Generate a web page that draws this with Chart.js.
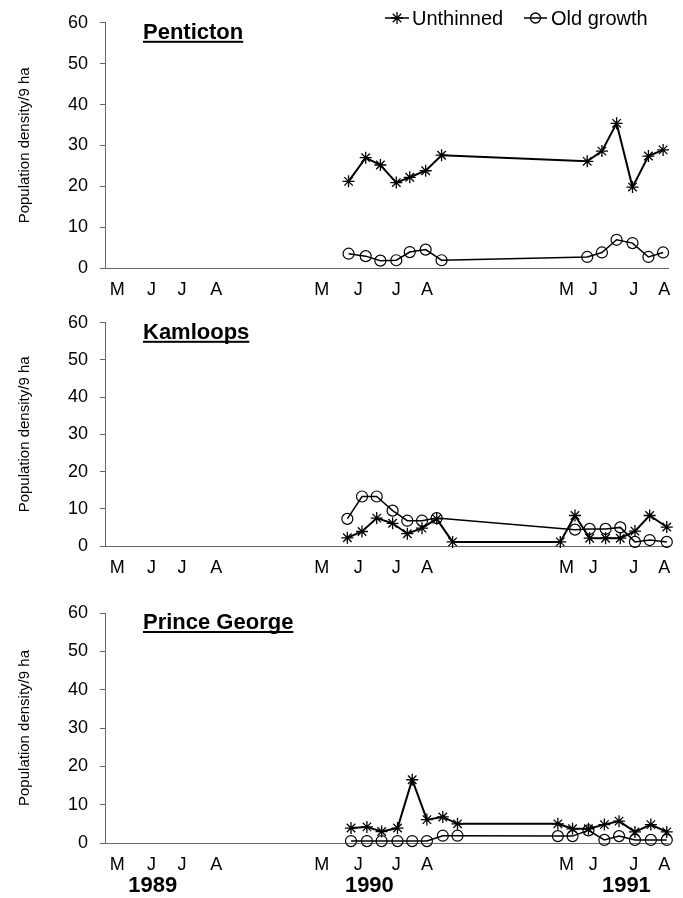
<!DOCTYPE html>
<html>
<head>
<meta charset="utf-8">
<script src="https://cdn.jsdelivr.net/npm/chart.js@4.4.0/dist/chart.umd.min.js"></script>
<style>
  html, body { margin: 0; padding: 0; background: #fff; }
  #wrap { position: relative; width: 683px; height: 898px; }
  .panel { position: absolute; left: 0; }
  .panel canvas { display: block; }
</style>
</head>
<body>
<div id="wrap">
  <div class="panel" style="top:0"><canvas id="c1" width="683" height="305"></canvas></div>
  <div class="panel" style="top:300px"><canvas id="c2" width="683" height="285"></canvas></div>
  <div class="panel" style="top:590px"><canvas id="c3" width="683" height="308"></canvas></div>
</div>
<script>
/* global Chart */

// x is a compressed season timeline (days, with the winters squeezed out)
const monthPos = [10, 38, 63, 91, 177, 207, 238, 263, 377, 399, 432, 457];
const monthLab = ["M", "J", "J", "A", "M", "J", "J", "A", "M", "J", "J", "A"];
const yearPos = [39, 216, 426];
const yearLab = ["1989", "1990", "1991"];

// Penticton
const penX = [199, 213, 225, 238, 249, 262, 275, 394, 406, 418, 431, 444, 456];
const penUnthinned = [21.2, 27.0, 25.2, 20.9, 22.2, 23.8, 27.6, 26.1, 28.6, 35.4, 19.8, 27.4, 28.9];
const penOldGrowth = [3.5, 2.9, 1.8, 1.9, 3.9, 4.5, 1.9, 2.7, 3.8, 6.9, 6.1, 2.7, 3.8];

// Kamloops
const kamUnX = [198, 210, 222, 235, 247, 259, 271, 284, 372, 384, 396, 409, 421, 433, 445, 459];
const kamUnthinned = [2.2, 3.9, 7.5, 6.1, 3.3, 4.8, 7.3, 1.1, 1.1, 8.2, 2.1, 2.1, 2.1, 4.0, 8.2, 5.1];
const kamOgX = [198, 210, 222, 235, 247, 259, 271, 384, 396, 409, 421, 433, 445, 459];
const kamOldGrowth = [7.3, 13.3, 13.3, 9.5, 6.8, 6.8, 7.5, 4.4, 4.6, 4.6, 5.0, 1.1, 1.6, 1.1];

// Prince George
const pgX = [201, 214, 226, 239, 251, 263, 276, 288, 370, 382, 395, 408, 420, 433, 446, 459];
const pgUnthinned = [3.9, 4.2, 3.0, 3.9, 16.5, 6.1, 6.8, 5.0, 5.0, 3.7, 3.7, 4.8, 5.7, 2.9, 4.8, 2.9];
const pgOldGrowth = [0.5, 0.5, 0.5, 0.5, 0.5, 0.5, 1.9, 1.9, 1.8, 1.8, 3.3, 0.8, 1.8, 0.8, 0.8, 0.8];

const FONT = "'Liberation Sans', Arial, Helvetica, sans-serif";

function pts(xs, ys) {
  return xs.map((x, i) => ({ x: x, y: ys[i] }));
}

function drawMarker(ctx, style, radius, x, y) {
  const opts = { pointStyle: style, radius: radius, borderWidth: 1.3, rotation: 0 };
  ctx.save();
  ctx.strokeStyle = "#000";
  ctx.fillStyle = "rgba(0,0,0,0)";
  ctx.lineWidth = 1.3;
  if (Chart.helpers && Chart.helpers.drawPoint) {
    Chart.helpers.drawPoint(ctx, opts, x, y);
  } else {
    ctx.beginPath();
    ctx.arc(x, y, radius, 0, Math.PI * 2);
    ctx.stroke();
  }
  ctx.restore();
}

const panelTitle = {
  id: "panelTitle",
  afterDraw(chart, args, opts) {
    const { ctx, chartArea } = chart;
    ctx.save();
    ctx.font = "bold 22px " + FONT;
    ctx.fillStyle = "#000";
    ctx.textBaseline = "alphabetic";
    const x = chartArea.left + 38;
    const y = chartArea.top + 16 + (opts.dy || 0);
    ctx.fillText(opts.text, x, y);
    const w = ctx.measureText(opts.text).width;
    ctx.fillRect(x, y + 2, w, 2);
    ctx.restore();
  },
};

const topLegend = {
  id: "topLegend",
  afterDraw(chart, args, opts) {
    if (!opts.show) return;
    const ctx = chart.ctx;
    const y = 18;
    ctx.save();
    ctx.strokeStyle = "#000";
    ctx.lineWidth = 1.5;
    ctx.beginPath();
    ctx.moveTo(385, y);
    ctx.lineTo(409, y);
    ctx.moveTo(524, y);
    ctx.lineTo(547, y);
    ctx.stroke();
    drawMarker(ctx, "star", 6, 397, y);
    drawMarker(ctx, "circle", 5, 535.5, y);
    ctx.font = "20px " + FONT;
    ctx.fillStyle = "#000";
    ctx.textBaseline = "middle";
    ctx.fillText("Unthinned", 412, y + 1);
    ctx.fillText("Old growth", 551, y + 1);
    ctx.restore();
  },
};

const yearLabels = {
  id: "yearLabels",
  afterDraw(chart, args, opts) {
    if (!opts.show) return;
    const ctx = chart.ctx;
    const xs = chart.scales.x;
    ctx.save();
    ctx.font = "bold 22px " + FONT;
    ctx.fillStyle = "#000";
    ctx.textAlign = "center";
    ctx.textBaseline = "middle";
    yearPos.forEach((v, i) => {
      ctx.fillText(yearLab[i], xs.getPixelForValue(v), opts.y);
    });
    ctx.restore();
  },
};

function makePanel(id, title, unData, ogData, cfg) {
  return new Chart(document.getElementById(id), {
    type: "line",
    data: {
      datasets: [
        {
          label: "Old growth",
          data: ogData,
          borderColor: "#000",
          borderWidth: 1.5,
          pointStyle: "circle",
          pointRadius: 5.5,
          pointBorderWidth: 1.2,
          pointBorderColor: "#000",
          pointBackgroundColor: "rgba(0,0,0,0)",
          tension: 0,
          clip: false,
        },
        {
          label: "Unthinned",
          data: unData,
          borderColor: "#000",
          borderWidth: 2,
          pointStyle: "star",
          pointRadius: 6,
          pointBorderWidth: 1.3,
          pointBorderColor: "#000",
          tension: 0,
          clip: false,
        },
      ],
    },
    options: {
      responsive: false,
      animation: false,
      layout: { padding: { top: cfg.top, right: 15, left: 0, bottom: 0 } },
      plugins: {
        legend: { display: false },
        tooltip: { enabled: false },
        panelTitle: { text: title, dy: cfg.titleDy || 0 },
        topLegend: { show: !!cfg.legend },
        yearLabels: { show: !!cfg.years, y: cfg.yearY },
      },
      scales: {
        x: {
          type: "linear",
          min: 0,
          max: 460,
          afterFit: (s) => {
            s.height = cfg.xh;
          },
          afterBuildTicks: (s) => {
            s.ticks = monthPos.map((v) => ({ value: v }));
          },
          grid: { display: false, drawTicks: false },
          border: { display: true, color: "#666", width: 1 },
          ticks: {
            autoSkip: false,
            maxRotation: 0,
            padding: 11,
            color: "#000",
            font: { family: FONT, size: 18 },
            callback: (v, i) => monthLab[i],
          },
        },
        y: {
          min: 0,
          max: 60,
          afterFit: (s) => {
            s.width = 105;
          },
          grid: { display: true, drawOnChartArea: false, drawTicks: true, tickLength: 5, color: "#666" },
          border: { display: true, color: "#666", width: 1 },
          ticks: {
            stepSize: 5,
            padding: 12,
            color: "#000",
            font: { family: FONT, size: 18 },
            callback: (v) => (v % 10 === 0 ? v : ""),
          },
          title: {
            display: true,
            text: "Population density/9 ha",
            color: "#000",
            font: { family: FONT, size: 15 },
            padding: { top: 16, bottom: 0 },
          },
        },
      },
    },
    plugins: [panelTitle, topLegend, yearLabels],
  });
}

makePanel("c1", "Penticton", pts(penX, penUnthinned), pts(penX, penOldGrowth), { top: 18, xh: 37, legend: true });
makePanel("c2", "Kamloops", pts(kamUnX, kamUnthinned), pts(kamOgX, kamOldGrowth), { top: 20, xh: 39 });
makePanel("c3", "Prince George", pts(pgX, pgUnthinned), pts(pgX, pgOldGrowth), { top: 23, xh: 55, years: true, yearY: 296 });
</script>
</body>
</html>
